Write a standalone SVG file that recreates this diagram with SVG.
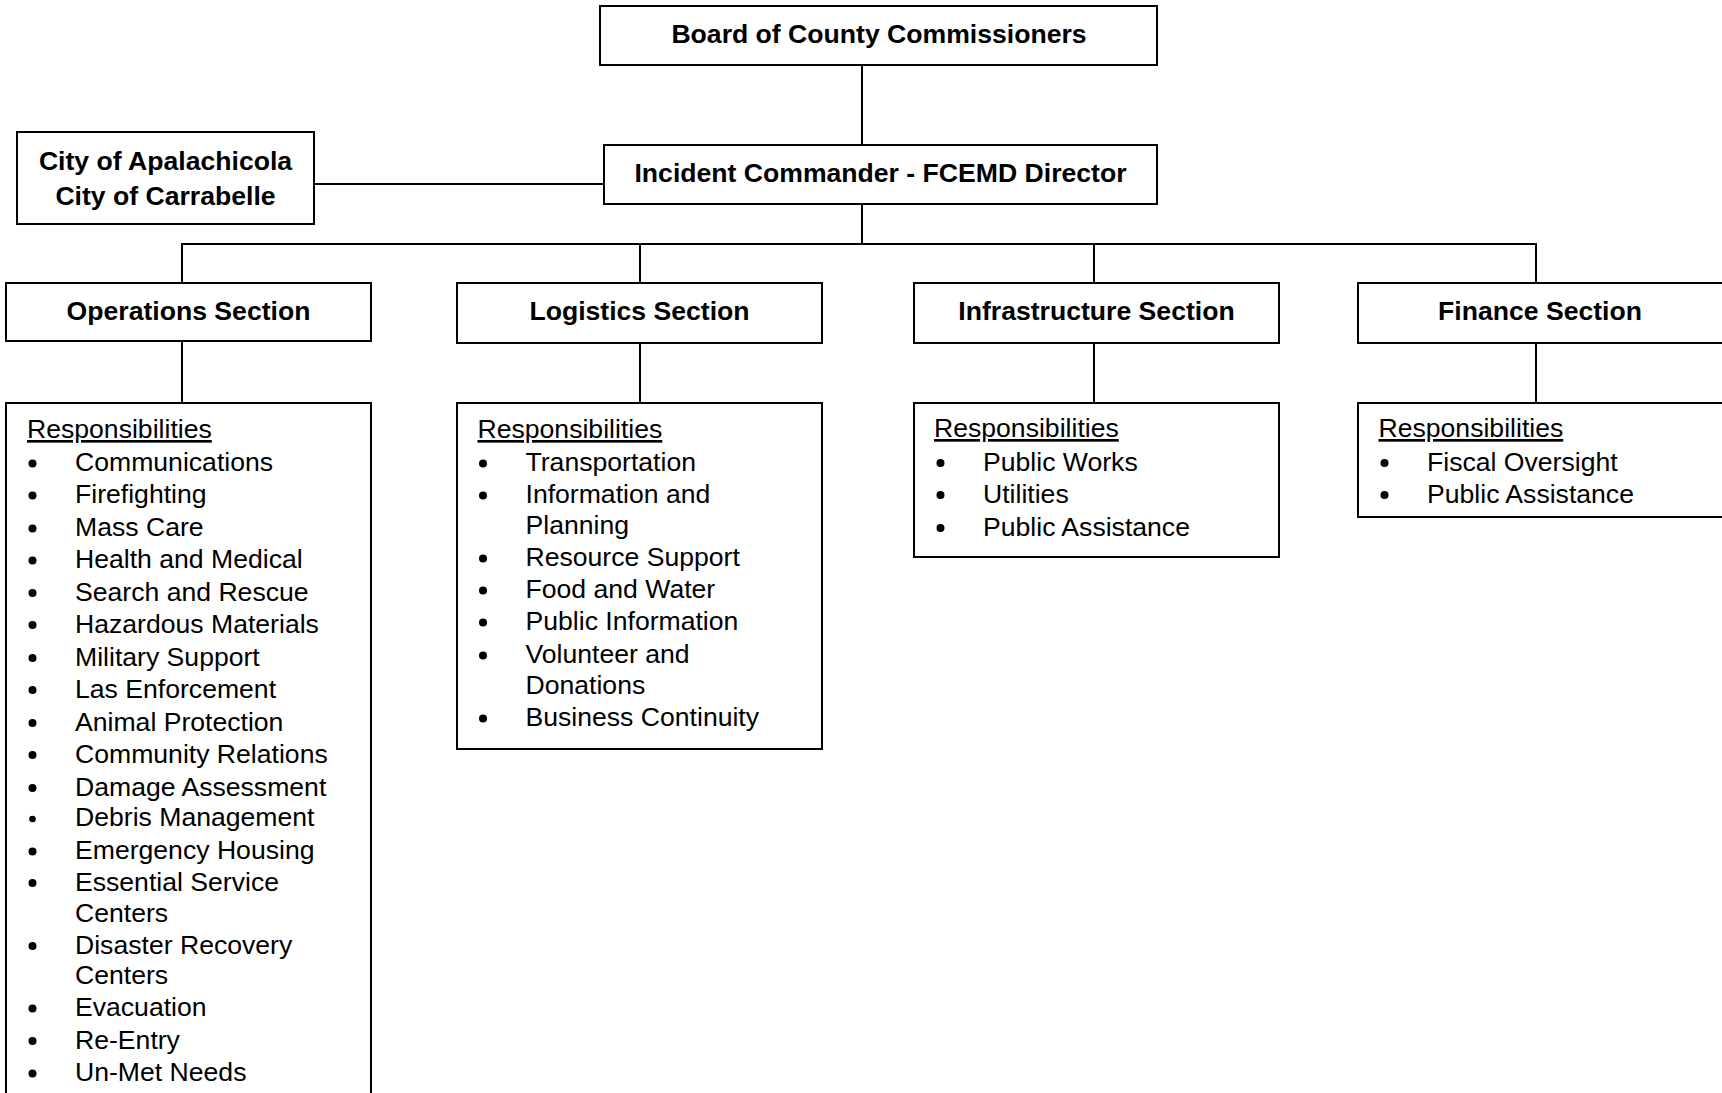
<svg xmlns="http://www.w3.org/2000/svg" width="1722" height="1093" viewBox="0 0 1722 1093">
<style>
.box{fill:#fff;stroke:#000;stroke-width:2}
.conn line{stroke:#000;stroke-width:2}
.t{font-family:"Liberation Sans",Arial,sans-serif;font-size:26.6px;fill:#000}
.b{font-weight:bold;text-anchor:middle}
.u{text-decoration:underline}
.dot{fill:#000}
</style>
<rect width="1722" height="1093" fill="#fff"/>
<g id="connectors" class="conn">
<line x1="862" y1="65" x2="862" y2="145"/>
<line x1="862" y1="204" x2="862" y2="244"/>
<line x1="314" y1="184" x2="604" y2="184"/>
<line x1="181" y1="244" x2="1537" y2="244"/>
<line x1="182" y1="244" x2="182" y2="283"/>
<line x1="640" y1="244" x2="640" y2="283"/>
<line x1="1094" y1="244" x2="1094" y2="283"/>
<line x1="1536" y1="244" x2="1536" y2="283"/>
<line x1="182" y1="341" x2="182" y2="403"/>
<line x1="640" y1="343" x2="640" y2="403"/>
<line x1="1094" y1="343" x2="1094" y2="403"/>
<line x1="1536" y1="343" x2="1536" y2="403"/>
</g>
<g id="board">
<rect class="box" x="600" y="6" width="557" height="59"/>
<text class="t b" x="879" y="43">Board of County Commissioners</text>
</g>
<g id="incident">
<rect class="box" x="604" y="145" width="553" height="59"/>
<text class="t b" x="880.5" y="181.5">Incident Commander - FCEMD Director</text>
</g>
<g id="cities">
<rect class="box" x="17" y="132" width="297" height="92"/>
<text class="t b" x="165.5" y="170">City of Apalachicola</text>
<text class="t b" x="165.5" y="205">City of Carrabelle</text>
</g>
<g id="operations">
<rect class="box" x="6" y="283" width="365" height="58"/>
<text class="t b" x="188.5" y="320">Operations Section</text>
</g>
<g id="logistics">
<rect class="box" x="457" y="283" width="365" height="60"/>
<text class="t b" x="639.5" y="320">Logistics Section</text>
</g>
<g id="infrastructure">
<rect class="box" x="914" y="283" width="365" height="60"/>
<text class="t b" x="1096.5" y="320">Infrastructure Section</text>
</g>
<g id="finance">
<rect class="box" x="1358" y="283" width="366" height="60"/>
<text class="t b" x="1540" y="320">Finance Section</text>
</g>
<g id="operations-resp">
<rect class="box" x="6" y="403" width="365" height="710"/>
<text class="t u" x="27" y="438">Responsibilities</text>
<g class="dot">
<circle cx="32.5" cy="463.5" r="4"/><circle cx="32.5" cy="495.5" r="4"/><circle cx="32.5" cy="528.5" r="4"/><circle cx="32.5" cy="560.5" r="4"/><circle cx="32.5" cy="593" r="4"/><circle cx="32.5" cy="625" r="4"/><circle cx="32.5" cy="658" r="4"/><circle cx="32.5" cy="690" r="4"/><circle cx="32.5" cy="723" r="4"/><circle cx="32.5" cy="755" r="4"/><circle cx="32.5" cy="788" r="4"/><circle cx="32.5" cy="819" r="3.3"/><circle cx="32.5" cy="851.5" r="4"/><circle cx="32.5" cy="883" r="4"/><circle cx="32.5" cy="946" r="4"/><circle cx="32.5" cy="1008.5" r="4"/><circle cx="32.5" cy="1041" r="4"/><circle cx="32.5" cy="1073.5" r="4"/>
</g>
<text class="t" x="75" y="471">Communications</text>
<text class="t" x="75" y="503">Firefighting</text>
<text class="t" x="75" y="536">Mass Care</text>
<text class="t" x="75" y="568">Health and Medical</text>
<text class="t" x="75" y="600.5">Search and Rescue</text>
<text class="t" x="75" y="632.5">Hazardous Materials</text>
<text class="t" x="75" y="665.5">Military Support</text>
<text class="t" x="75" y="697.5">Las Enforcement</text>
<text class="t" x="75" y="730.5">Animal Protection</text>
<text class="t" x="75" y="762.5">Community Relations</text>
<text class="t" x="75" y="795.5">Damage Assessment</text>
<text class="t" x="75" y="826">Debris Management</text>
<text class="t" x="75" y="859">Emergency Housing</text>
<text class="t" x="75" y="890.5">Essential Service</text>
<text class="t" x="75" y="921.5">Centers</text>
<text class="t" x="75" y="953.5">Disaster Recovery</text>
<text class="t" x="75" y="984">Centers</text>
<text class="t" x="75" y="1016">Evacuation</text>
<text class="t" x="75" y="1048.5">Re-Entry</text>
<text class="t" x="75" y="1081">Un-Met Needs</text>
</g>
<g id="logistics-resp">
<rect class="box" x="457" y="403" width="365" height="346"/>
<text class="t u" x="477.5" y="438">Responsibilities</text>
<g class="dot">
<circle cx="483" cy="463.5" r="4"/><circle cx="483" cy="495.5" r="4"/><circle cx="483" cy="558.5" r="4"/><circle cx="483" cy="590.5" r="4"/><circle cx="483" cy="622.5" r="4"/><circle cx="483" cy="655.5" r="4"/><circle cx="483" cy="718.5" r="4"/>
</g>
<text class="t" x="525.5" y="471">Transportation</text>
<text class="t" x="525.5" y="503">Information and</text>
<text class="t" x="525.5" y="534">Planning</text>
<text class="t" x="525.5" y="566">Resource Support</text>
<text class="t" x="525.5" y="598">Food and Water</text>
<text class="t" x="525.5" y="630">Public Information</text>
<text class="t" x="525.5" y="663">Volunteer and</text>
<text class="t" x="525.5" y="694">Donations</text>
<text class="t" x="525.5" y="726">Business Continuity</text>
</g>
<g id="infrastructure-resp">
<rect class="box" x="914" y="403" width="365" height="154"/>
<text class="t u" x="934" y="437">Responsibilities</text>
<g class="dot">
<circle cx="940.5" cy="463" r="4"/><circle cx="940.5" cy="495" r="4"/><circle cx="940.5" cy="528" r="4"/>
</g>
<text class="t" x="983" y="470.5">Public Works</text>
<text class="t" x="983" y="502.5">Utilities</text>
<text class="t" x="983" y="535.5">Public Assistance</text>
</g>
<g id="finance-resp">
<rect class="box" x="1358" y="403" width="366" height="114"/>
<text class="t u" x="1378.5" y="437">Responsibilities</text>
<g class="dot">
<circle cx="1384.5" cy="463" r="4"/><circle cx="1384.5" cy="495" r="4"/>
</g>
<text class="t" x="1427" y="470.5">Fiscal Oversight</text>
<text class="t" x="1427" y="502.5">Public Assistance</text>
</g>
</svg>
